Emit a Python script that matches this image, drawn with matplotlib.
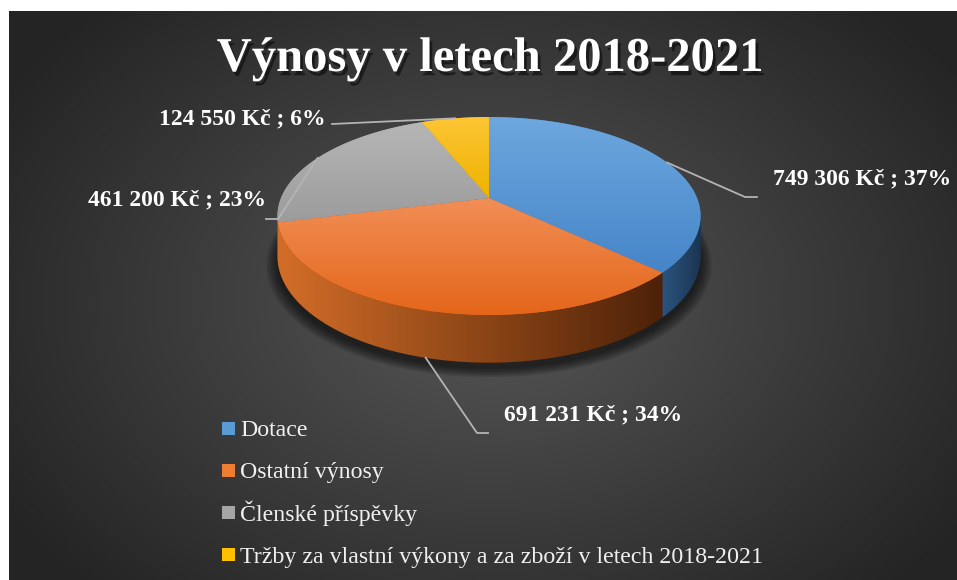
"""Výnosy v letech 2018-2021 - 3D pie (Excel style) on dark radial background."""
import numpy as np
import matplotlib
matplotlib.use("Agg")
import matplotlib.pyplot as plt
from matplotlib.patches import Polygon, Rectangle
import matplotlib.patheffects as pe

W, H = 957, 580

TITLE = "Výnosy v letech 2018-2021"
CATEGORIES = ["Dotace", "Ostatní výnosy", "Členské příspěvky",
              "Tržby za vlastní výkony a za zboží v letech 2018-2021"]
VALUES = [749306, 691231, 461200, 124550]
VALUE_LABELS = ["749 306 Kč", "691 231 Kč", "461 200 Kč", "124 550 Kč"]

# (top colour, bottom colour) of each top face, and (left, right) of the side walls
TOP_COL = [("#6da7de", "#4585c8"), ("#f18e56", "#e4661a"),
           ("#b6b6b6", "#9c9c9c"), ("#fcc534", "#efb300")]
SIDE_COL = [("#2b5480", "#1b3550"), ("#d26d28", "#4e2208"),
            ("#8a8a8a", "#6a6a6a"), ("#b08000", "#805c00")]
LEG_COL = ["#5b9bd5", "#ed7d31", "#a5a5a5", "#ffc000"]

# pie geometry (pixels), simple perspective of a tilted disk
CX, CY = 489, 198
A, B, P, DEPTH = 208, 95.7, 0.182, 39

# label anchor: (elbow point, end point, text baseline position, ha)
LEADERS = [((745, 197), (757, 197), (773, 184), "left"),
           ((477, 433), (488, 433), (504, 420), "left"),
           ((278, 219), (266, 219), (266, 205), "right"),
           ((332, 124), (332, 124), (326, 124), "right")]


def proj(theta, depth=0.0):
    t = np.radians(theta)
    x, z = np.sin(t), -np.cos(t)
    w = 1 - P * z
    return CX + A * x / w, CY + (B * z + depth) / w


def grad_fill(ax, verts, c0, c1, horizontal=False, z=2):
    poly = Polygon(verts, closed=True, facecolor=c1, edgecolor="none", zorder=z)
    ax.add_patch(poly)
    xs, ys = verts[:, 0], verts[:, 1]
    n = 64
    c0 = np.array(matplotlib.colors.to_rgb(c0)); c1 = np.array(matplotlib.colors.to_rgb(c1))
    f = np.linspace(0, 1, n)
    cols = c0[None, :] * (1 - f[:, None]) + c1[None, :] * f[:, None]
    img = cols[None, :, :] if horizontal else cols[:, None, :]
    im = ax.imshow(img, extent=(xs.min(), xs.max(), ys.max(), ys.min()), origin="upper",
                   aspect="auto", interpolation="bilinear", zorder=z + 0.1)
    im.set_clip_path(poly)


def background(ax):
    ax.add_patch(Rectangle((0, 0), W, H, facecolor="white", edgecolor="none", zorder=0))
    yy, xx = np.mgrid[11:H, 9:W]
    r = np.sqrt(((xx - 490) / 560.0) ** 2 + ((yy - 300) / 400.0) ** 2).clip(0, 1)
    c_in, c_out = np.array([0.34, 0.34, 0.34]), np.array([0.145, 0.145, 0.145])
    img = c_in * (1 - r[..., None]) + c_out * r[..., None]
    ax.imshow(img, extent=(9, W, H, 11), origin="upper", aspect="auto", zorder=0.5)


def pie(ax):
    fr = np.array(VALUES, float) / sum(VALUES)
    edges = np.concatenate([[0], np.cumsum(fr) * 360])
    vis0, vis1 = 100.5, 259.5

    # soft shadow under the pie
    tt = np.linspace(0, 360, 200)
    for k in range(10):
        s = 1.0 + 0.006 * k
        bx, by = proj(tt, DEPTH)
        bx = CX + (bx - CX) * s
        by = CY + 6 + (by - CY) * s
        ax.add_patch(Polygon(np.column_stack([bx, by]), closed=True, facecolor="black",
                             edgecolor="none", alpha=0.07, zorder=1))

    # side walls
    for i in range(len(VALUES)):
        a0, a1 = max(edges[i], vis0), min(edges[i + 1], vis1)
        if a1 <= a0:
            continue
        t = np.linspace(a0, a1, 80)
        tx, ty = proj(t)
        bx, by = proj(t[::-1], DEPTH)
        verts = np.column_stack([np.concatenate([tx, bx]), np.concatenate([ty, by])])
        grad_fill(ax, verts, *SIDE_COL[i], horizontal=True, z=2)

    # top faces
    for i in range(len(VALUES)):
        t = np.linspace(edges[i], edges[i + 1], 120)
        tx, ty = proj(t)
        verts = np.column_stack([np.concatenate([[CX], tx]), np.concatenate([[CY], ty])])
        grad_fill(ax, verts, *TOP_COL[i], z=3)

    # leader lines + data labels
    for i, (elbow, end, txt, ha) in enumerate(LEADERS):
        mid = (edges[i] + edges[i + 1]) / 2
        z = -np.cos(np.radians(mid))
        sx, sy = proj(mid, DEPTH if z > P else 0)
        ax.plot([sx, elbow[0], end[0]], [sy, elbow[1], end[1]], color="#b4b4b4", lw=1.3, zorder=5)
        pct = round(fr[i] * 100)
        ax.text(txt[0], txt[1], f"{VALUE_LABELS[i]} ; {pct}%", ha=ha, va="baseline", color="white",
                fontsize=17, fontweight="bold", family="Liberation Serif", zorder=6)


def legend(ax):
    for i, (lab, col) in enumerate(zip(CATEGORIES, LEG_COL)):
        y = 428 + i * 42.3
        ax.add_patch(Rectangle((222, y - 6.5), 13, 13, facecolor=col, edgecolor="none", zorder=6))
        ax.text(240, y + 8, lab, ha="left", va="baseline", color="#f0f0f0", fontsize=17.2,
                family="Liberation Serif", zorder=6)


def main():
    fig = plt.figure(figsize=(W / 100, H / 100), dpi=100)
    ax = fig.add_axes([0, 0, 1, 1])
    ax.axis("off")
    background(ax)
    pie(ax)
    legend(ax)
    ax.text(490, 71, TITLE, ha="center", va="baseline", color="white", fontsize=35,
            fontweight="bold", family="Liberation Serif", zorder=6,
            path_effects=[pe.withSimplePatchShadow(offset=(2, -3), shadow_rgbFace="black", alpha=0.5)])
    ax.set_xlim(0, W); ax.set_ylim(H, 0)
    fig.savefig("out.png", dpi=100)


if __name__ == "__main__":
    main()
